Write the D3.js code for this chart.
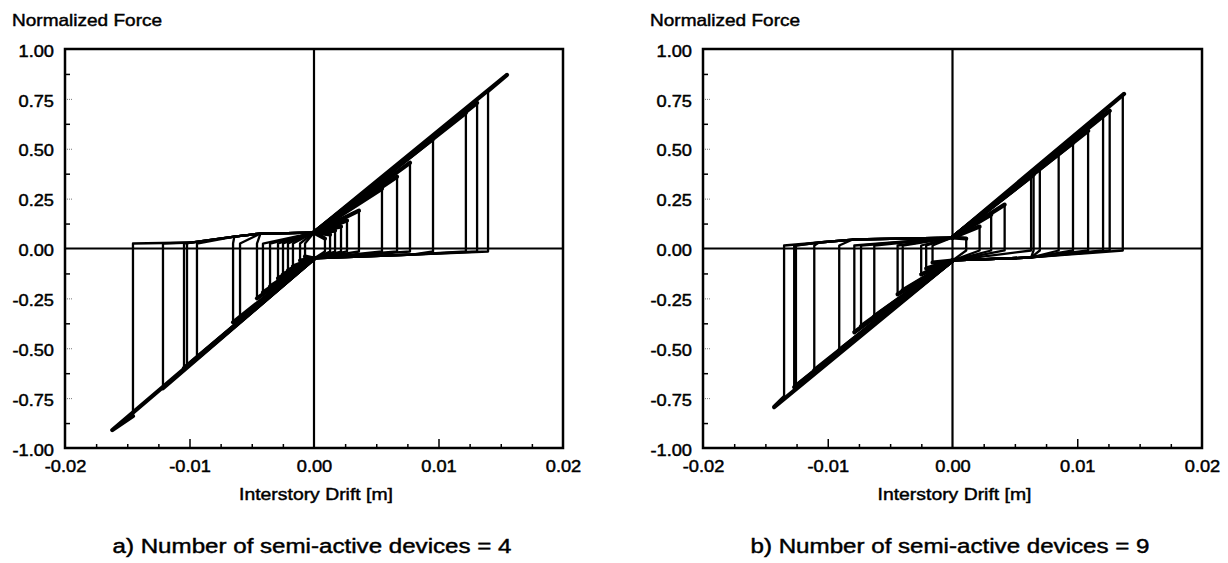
<!DOCTYPE html>
<html><head><meta charset="utf-8">
<script src="https://cdn.jsdelivr.net/npm/d3@7"></script>
<style>
body{margin:0;background:#fff}
text{font-family:"Liberation Sans",Arial,Helvetica,sans-serif;fill:#000;stroke:#000;stroke-width:0.45px}
</style>
</head><body>
<svg id="c" width="1228" height="563"></svg>
<script>
// ---------- axis definitions ----------
const xTickValues = [-0.02, -0.01, 0.00, 0.01, 0.02];
const xMajorInner = [-0.01, 0.01];
const xMinorTicks = [-0.0175, -0.015, -0.0125, -0.0075, -0.005, -0.0025, 0.0025, 0.005, 0.0075, 0.0125, 0.015, 0.0175];
const yTickValues = [1.00, 0.75, 0.50, 0.25, 0.00, -0.25, -0.50, -0.75, -1.00];
const yMinorTicks = [0.875, 0.625, 0.375, 0.125, -0.125, -0.375, -0.625, -0.875];
const yAxisTitle = "Normalized Force";
const xAxisTitle = "Interstory Drift [m]";
const captions = ["a) Number of semi-active devices = 4", "b) Number of semi-active devices = 9"];

// ---------- panel a: 4 semi-active devices ----------
const posDriftA = [0.01398, 0.0131, 0.0122, 0.00956, 0.00771, 0.00667, 0.00546, 0.00361, 0.00265, 0.00217, 0.00169, 0.00129, 0.00088];
const posForceA = [0.79, 0.73, 0.68, 0.55, 0.43, 0.36, 0.30, 0.19, 0.14, 0.11, 0.09, 0.07, 0.05];
const negDriftA = [-0.01454, -0.01213, -0.01044, -0.0102, -0.0094, -0.0065, -0.00594, -0.00458, -0.0041, -0.00353, -0.00289, -0.00249, -0.00209, -0.00169, -0.00112, -0.00072];
const negForceA = [-0.84, -0.70, -0.60, -0.59, -0.55, -0.37, -0.35, -0.25, -0.22, -0.19, -0.15, -0.13, -0.11, -0.09, -0.06, -0.04];
const tipDriftA = [0.0155, -0.0162];
const tipForceA = [0.87, -0.91];
const posReturnDriftA = [0.0141, 0.008, 0.0];
const posReturnForceA = [-0.015, -0.03, -0.05];
const negReturnDriftA = [-0.01454, -0.0099, -0.0064, -0.0043, 0.0];
const negReturnForceA = [0.025, 0.03, 0.06, 0.075, 0.08];

// ---------- panel b: 9 semi-active devices ----------
const posDriftB = [0.01365, 0.0126, 0.01207, 0.01087, 0.00966, 0.00851, 0.0070, 0.0065, 0.0063, 0.00418, 0.0031, 0.00217, 0.0011];
const posForceB = [0.77, 0.69, 0.67, 0.59, 0.53, 0.48, 0.40, 0.37, 0.36, 0.22, 0.17, 0.11, 0.05];
const negDriftB = [-0.0135, -0.01269, -0.01255, -0.01108, -0.00908, -0.00787, -0.00733, -0.00627, -0.0044, -0.00399, -0.00251, -0.00211, -0.0016];
const negForceB = [-0.745, -0.695, -0.69, -0.61, -0.51, -0.42, -0.39, -0.34, -0.23, -0.21, -0.13, -0.10, -0.07];
const tipDriftB = [0.01375, -0.0143];
const tipForceB = [0.775, -0.795];
const posReturnDriftB = [0.0137, 0.0063, 0.0];
const posReturnForceB = [-0.01, -0.045, -0.06];
const negReturnDriftB = [-0.0135, -0.0107, -0.008, 0.0];
const negReturnForceB = [0.015, 0.03, 0.045, 0.055];

const panels = [
  {left: 65, right: 563, top: 49, bottom: 448, titleX: 12, caption: captions[0], capX: 312,
   posD: posDriftA, posF: posForceA, negD: negDriftA, negF: negForceA, tipD: tipDriftA, tipF: tipForceA,
   prD: posReturnDriftA, prF: posReturnForceA, nrD: negReturnDriftA, nrF: negReturnForceA},
  {left: 703, right: 1202, top: 49, bottom: 448, titleX: 650, caption: captions[1], capX: 950,
   posD: posDriftB, posF: posForceB, negD: negDriftB, negF: negForceB, tipD: tipDriftB, tipF: tipForceB,
   prD: posReturnDriftB, prF: posReturnForceB, nrD: negReturnDriftB, nrF: negReturnForceB}
];

const svg = d3.select("#c");
const SX = 1.14;
const fmt = v => d3.format(".2f")(v).replace("\u2212", "-");

// loading branch: start -> (tip) -> peak ; release branch: peak -> drop -> return to origin
function loading(drifts, forces, tipD, tipF, start) {
  return drifts.map((d, i) => {
    const pts = [[0, start]];
    if (i === 0) pts.push([tipD, tipF]);
    pts.push([d, forces[i]]);
    return pts;
  });
}
function release(drifts, forces, retD, retF, sign) {
  return drifts.map((d, i) => {
    const pts = [[d, forces[i]], [d, retF[0]]];
    retD.forEach((rd, j) => { if (sign * rd < sign * d) pts.push([rd, retF[j]]); });
    return pts;
  });
}

panels.forEach(p => {
  const x = d3.scaleLinear().domain([-0.02, 0.02]).range([p.left, p.right]);
  const y = d3.scaleLinear().domain([-1, 1]).range([p.bottom, p.top]);
  const g = svg.append("g");

  // zero lines
  g.append("line").attr("x1", x(0)).attr("x2", x(0)).attr("y1", y(1)).attr("y2", y(-1))
    .attr("stroke", "#000").attr("stroke-width", 2.2);
  g.append("line").attr("x1", x(-0.02)).attr("x2", x(0.02)).attr("y1", y(0)).attr("y2", y(0))
    .attr("stroke", "#000").attr("stroke-width", 2.2);

  // inner ticks
  const yMinor = g.append("g").attr("transform", `translate(${p.left},0)`)
    .call(d3.axisLeft(y).tickValues(yMinorTicks).tickSize(-5).tickFormat(""));
  const yMaj = g.append("g").attr("transform", `translate(${p.left},0)`)
    .call(d3.axisLeft(y).tickValues(yTickValues.filter(v => Math.abs(v) < 1 && v !== 0)).tickSize(-8).tickFormat(""));
  const xMinor = g.append("g").attr("transform", `translate(0,${p.bottom})`)
    .call(d3.axisBottom(x).tickValues(xMinorTicks).tickSize(-4).tickFormat(""));
  const xMaj = g.append("g").attr("transform", `translate(0,${p.bottom})`)
    .call(d3.axisBottom(x).tickValues(xMajorInner).tickSize(-9).tickFormat(""));
  [yMinor, yMaj, xMinor, xMaj].forEach(a => { a.select(".domain").remove(); a.selectAll("line").attr("stroke-width", 1.5); });
  yMaj.selectAll("line").attr("stroke", "#777").attr("stroke-width", 1).attr("stroke-dasharray", "1,1");

  // tick labels
  const yLab = g.append("g").attr("transform", `translate(${p.left},0)`)
    .call(d3.axisLeft(y).tickValues(yTickValues).tickSize(0).tickFormat(fmt));
  yLab.select(".domain").remove();
  yLab.selectAll("text").attr("x", -11 / SX).attr("dy", "0.45em")
    .attr("transform", `scale(${SX},1)`).style("font-size", "16px").attr("font-family", null);
  const xLab = g.append("g").attr("transform", `translate(0,${p.bottom})`)
    .call(d3.axisBottom(x).tickValues(xTickValues).tickSize(0).tickFormat(fmt));
  xLab.select(".domain").remove();
  xLab.selectAll("text").attr("y", 13).attr("dy", "0.71em")
    .attr("transform", `scale(${SX},1)`).style("font-size", "16px").attr("font-family", null);

  // hysteresis curves
  const line = d3.line().x(d => x(d[0])).y(d => y(d[1]));
  const posStart = p.nrF[p.nrF.length - 1], negStart = p.prF[p.prF.length - 1];
  const loads = loading(p.posD, p.posF, p.tipD[0], p.tipF[0], posStart)
    .concat(loading(p.negD, p.negF, p.tipD[1], p.tipF[1], negStart));
  const rels = release(p.posD, p.posF, p.prD, p.prF, 1)
    .concat(release(p.negD, p.negF, p.nrD, p.nrF, -1));
  g.append("g").selectAll("path").data(rels).join("path")
    .attr("d", line).attr("fill", "none").attr("stroke", "#000")
    .attr("stroke-width", 2.3).attr("stroke-linejoin", "round").attr("stroke-linecap", "round");
  g.append("g").selectAll("path").data(loads).join("path")
    .attr("d", line).attr("fill", "none").attr("stroke", "#000")
    .attr("stroke-width", 4.2).attr("stroke-linejoin", "round").attr("stroke-linecap", "round");

  // frame
  g.append("rect").attr("x", p.left).attr("y", p.top)
    .attr("width", p.right - p.left).attr("height", p.bottom - p.top)
    .attr("fill", "none").attr("stroke", "#000").attr("stroke-width", 2.5);

  // titles
  g.append("text").attr("transform", `translate(${p.titleX},25.5) scale(1.12,1)`)
    .style("font-size", "17px").text(yAxisTitle);
  g.append("text").attr("transform", `translate(${x(0) + 2},500) scale(${SX},1)`)
    .attr("text-anchor", "middle").style("font-size", "17px").text(xAxisTitle);
  g.append("text").attr("transform", `translate(${p.capX},553) scale(1.15,1)`)
    .attr("text-anchor", "middle").style("font-size", "21px").text(p.caption);
});
</script>
</body></html>
